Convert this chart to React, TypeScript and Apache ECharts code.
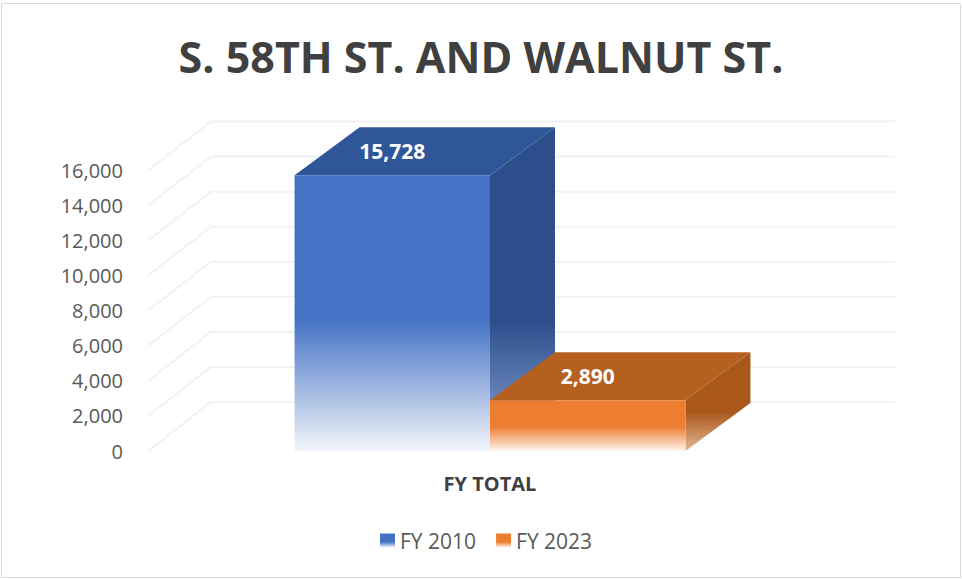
import React, { useEffect, useRef } from 'react';
import * as echarts from 'echarts';

const TITLE = 'S. 58TH ST. AND WALNUT ST.';
const CATEGORIES = ['FY TOTAL'];
const SERIES_NAMES = ['FY 2010', 'FY 2023'];
const FY2010_VALUES = [15728];
const FY2023_VALUES = [2890];
const Y_TICKS = [0, 2000, 4000, 6000, 8000, 10000, 12000, 14000, 16000];

const FONT = "'Open Sans', 'Noto Sans', sans-serif";
const BAR_DX = 65;
const BAR_DY = 48;
const WALL_DX = 63;
const WALL_DY = 49;

const PALETTE = [
  { front: '#4472C4', fade: '#F2F5FB', top: '#30569A', side: '#2C4F8C', sideFade: '#8FA8D8', legend: '#4472C4' },
  { front: '#ED7D31', fade: '#FEF5EE', top: '#B6601F', side: '#A9571B', sideFade: '#E4B690', legend: '#ED7D31' },
];

const fmt = (v: number) => v.toLocaleString('en-US');

const grad = (a: string, b: string, start: number) =>
  new echarts.graphic.LinearGradient(0, 0, 0, 1, [
    { offset: 0, color: a },
    { offset: start, color: a },
    { offset: 1, color: b },
  ]);

function barRender(seriesIndex: number) {
  return (params: any, api: any) => {
    const cat = api.value(0);
    const val = api.value(1);
    const band = api.size([1, 0])[0];
    const barW = band / 3.5;
    const base = api.coord([cat, 0]);
    const cx = base[0];
    const baseY = base[1];
    const topY = api.coord([cat, val])[1];
    const x0 = cx - barW + seriesIndex * barW;
    const x1 = x0 + barW;
    const c = PALETTE[seriesIndex];
    return {
      type: 'group',
      children: [
        {
          type: 'polygon',
          shape: { points: [[x1, topY], [x1 + BAR_DX, topY - BAR_DY], [x1 + BAR_DX, baseY - BAR_DY], [x1, baseY]] },
          style: { fill: grad(c.side, c.sideFade, 0.6) },
        },
        {
          type: 'polygon',
          shape: { points: [[x0, topY], [x0 + BAR_DX, topY - BAR_DY], [x1 + BAR_DX, topY - BAR_DY], [x1, topY]] },
          style: { fill: c.top },
        },
        {
          type: 'rect',
          shape: { x: x0, y: topY, width: barW, height: baseY - topY },
          style: { fill: grad(c.front, c.fade, 0.52) },
        },
        {
          type: 'text',
          x: (x0 + x1) / 2,
          y: topY - BAR_DY / 2,
          style: {
            text: fmt(val),
            fill: '#ffffff',
            fontSize: 21,
            fontWeight: 'bold',
            fontFamily: FONT,
            align: 'center',
            verticalAlign: 'middle',
          },
        },
      ],
    };
  };
}

function wallRender(params: any, api: any) {
  const y = api.coord([0, api.value(1)])[1];
  const cs = params.coordSys;
  return {
    type: 'polyline',
    shape: {
      points: [
        [cs.x, y],
        [cs.x + WALL_DX, y - WALL_DY],
        [cs.x + cs.width + WALL_DX, y - WALL_DY],
      ],
    },
    style: { stroke: '#f2f2f2', lineWidth: 2, fill: null },
  };
}

export default function App() {
  const ref = useRef<HTMLDivElement>(null);
  useEffect(() => {
    if (!ref.current) return;
    const chart = echarts.init(ref.current, null, { renderer: 'svg' });
    const seriesValues = [FY2010_VALUES, FY2023_VALUES];
    chart.setOption({
      animation: false,
      backgroundColor: '#ffffff',
      title: {
        text: TITLE,
        left: 'center',
        top: 30,
        textStyle: { fontSize: 43, fontWeight: 'bold', color: '#404040', fontFamily: FONT },
      },
      graphic: [
        {
          type: 'rect',
          shape: { x: 1.5, y: 3.5, width: 959, height: 574 },
          style: { fill: null, stroke: '#d9d9d9', lineWidth: 1 },
          silent: true,
        },
      ],
      legend: {
        data: SERIES_NAMES.map((n, i) => ({
          name: n,
          itemStyle: {
            color: new echarts.graphic.LinearGradient(0, 0, 0, 1, [
              { offset: 0, color: PALETTE[i].legend },
              { offset: 0.6, color: PALETTE[i].legend },
              { offset: 1, color: PALETTE[i].fade },
            ]),
          },
        })),
        left: 380,
        top: 530,
        padding: 0,
        icon: 'rect',
        itemWidth: 15,
        itemHeight: 14,
        itemGap: 20,
        textStyle: { fontSize: 21, color: '#595959', fontFamily: FONT },
      },
      grid: { left: 148, right: 130, top: 170.5, bottom: 128 },
      xAxis: {
        type: 'category',
        data: CATEGORIES,
        axisLine: { show: false },
        axisTick: { show: false },
        axisLabel: { fontSize: 20, fontWeight: 'bold', color: '#404040', fontFamily: FONT, margin: 22 },
      },
      yAxis: {
        type: 'value',
        min: Y_TICKS[0],
        max: Y_TICKS[Y_TICKS.length - 1],
        interval: Y_TICKS[1] - Y_TICKS[0],
        axisLine: { show: false },
        axisTick: { show: false },
        splitLine: { show: false },
        axisLabel: { fontSize: 20, color: '#595959', fontFamily: FONT, margin: 25, formatter: (v: number) => fmt(v) },
      },
      series: [
        {
          type: 'custom',
          name: 'walls',
          silent: true,
          z: 1,
          clip: false,
          renderItem: wallRender,
          data: Y_TICKS.map((v) => [0, v]),
        },
        ...SERIES_NAMES.map((name, i) => ({
          type: 'custom',
          name,
          z: 2 + i,
          clip: false,
          itemStyle: { color: PALETTE[i].legend },
          renderItem: barRender(i),
          data: seriesValues[i].map((v, k) => [k, v]),
        })),
      ],
    });
    return () => chart.dispose();
  }, []);
  return <div ref={ref} style={{ position: 'fixed', left: 0, top: 0, width: 962, height: 579 }} />;
}
